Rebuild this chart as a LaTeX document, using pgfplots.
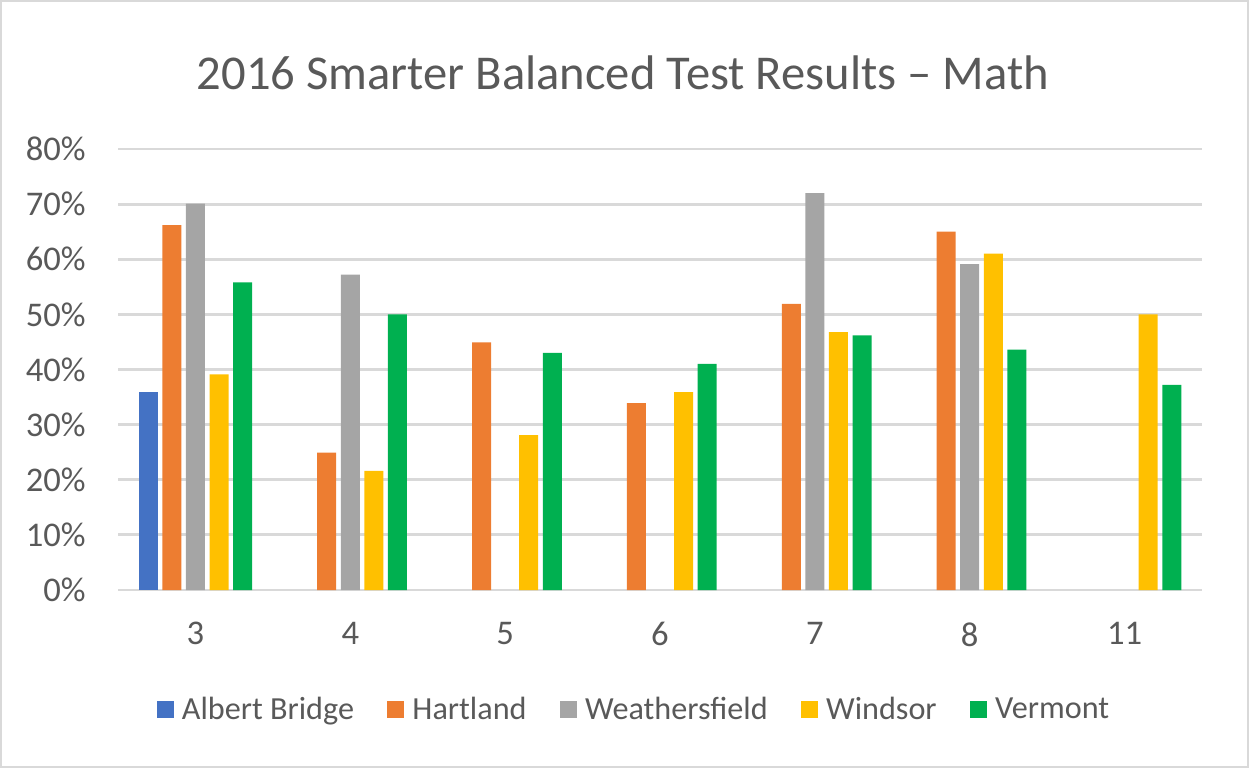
\documentclass[border=0pt]{standalone}
\usepackage{fontspec}
\setmainfont{Carlito}
\usepackage{pgfplots}
\pgfplotsset{compat=1.18}

\definecolor{txt}{HTML}{595959}
\definecolor{grd}{HTML}{D9D9D9}
\definecolor{cAB}{HTML}{4472C4}
\definecolor{cH}{HTML}{ED7D31}
\definecolor{cW}{HTML}{A5A5A5}
\definecolor{cWi}{HTML}{FFC000}
\definecolor{cV}{HTML}{00B050}

\begin{document}
\begin{tikzpicture}
% one pixel of the reference = 0.5pt
\useasboundingbox (0pt,0pt) rectangle (624.5pt,384pt);
\draw[grd, line width=0.8pt] (0.5pt,0.5pt) rectangle (624pt,383.5pt);
\node[txt, anchor=base, font=\fontsize{24.3}{28}\selectfont, inner sep=0pt]
  at (311.5pt,339pt) {2016 Smarter Balanced Test Results – Math};

\begin{axis}[
  at={(59pt,89pt)}, anchor=south west,
  scale only axis, width=542pt, height=220.5pt,
  xmin=-0.5, xmax=6.5, ymin=0, ymax=80,
  xtick={0,...,6}, xticklabels={3,4,5,6,7,8,11},
  ytick={0,10,...,80},
  yticklabel={\pgfmathprintnumber{\tick}\%},
  /pgf/number format/assume math mode=true,
  ymajorgrids, grid style={grd, line width=1.4pt},
  axis line style={draw=none}, major tick length=0pt,
  tick label style={txt, font=\fontsize{17.3}{20}\selectfont, inner sep=0pt},
  yticklabel style={anchor=east, xshift=-16pt},
  xticklabel style={anchor=north, yshift=-16pt},
  ybar=2.3pt, bar width=9.5pt,
  legend columns=5,
  legend style={at={(0.4765,-0.272)}, anchor=center, draw=none, fill=none,
    font=\fontsize{16.1}{19}\selectfont, text=txt,
    nodes={inner sep=1.5pt},
    /tikz/every odd column/.append style={column sep=2.5pt},
    /tikz/every even column/.append style={column sep=15.2pt}},
  legend image code/.code={\fill[#1] (0pt,-4.25pt) rectangle (8.5pt,4.25pt);},
]
\addplot[fill=cAB, draw=none] coordinates {(0,36.0)};
\addplot[fill=cH, draw=none] coordinates {(0,66.2) (1,24.9) (2,44.9) (3,33.9) (4,51.9) (5,65.0)};
\addplot[fill=cW, draw=none] coordinates {(0,70.1) (1,57.2) (4,72.0) (5,59.1)};
\addplot[fill=cWi, draw=none] coordinates {(0,39.1) (1,21.6) (2,28.1) (3,35.9) (4,46.8) (5,61.0) (6,50.0)};
\addplot[fill=cV, draw=none] coordinates {(0,55.8) (1,50.0) (2,43.0) (3,41.0) (4,46.2) (5,43.6) (6,37.2)};
\legend{Albert Bridge, Hartland, Weathersfield, Windsor, Vermont}
\end{axis}
\end{tikzpicture}
\end{document}
